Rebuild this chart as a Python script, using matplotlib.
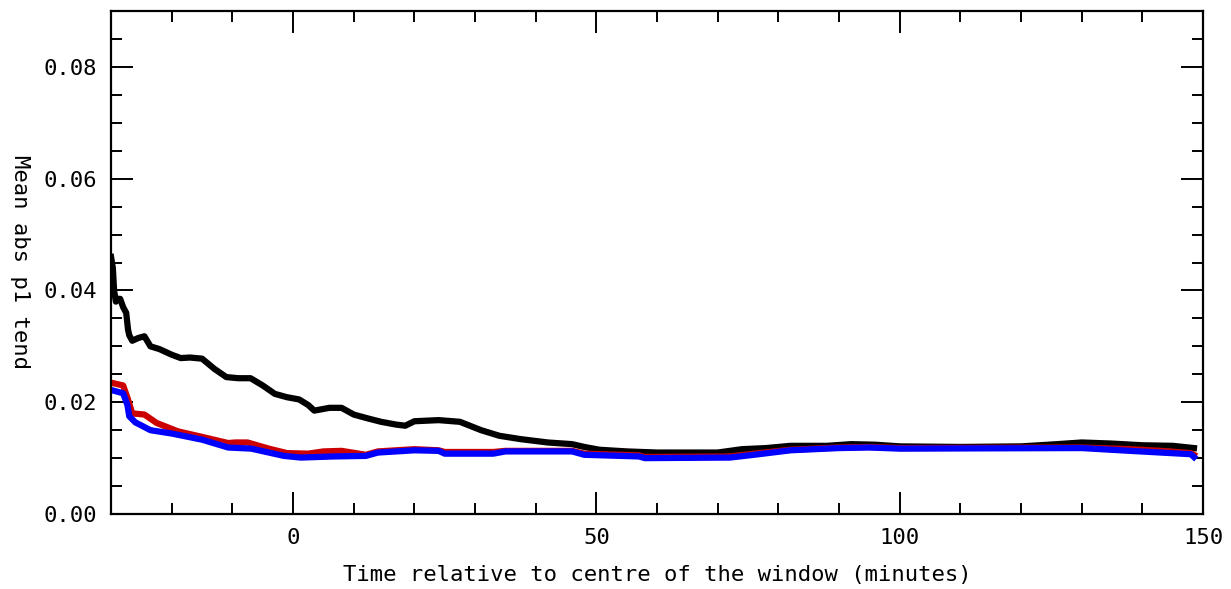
import numpy as np
import matplotlib
matplotlib.use("Agg")
import matplotlib.pyplot as plt
from matplotlib.ticker import MultipleLocator, FormatStrFormatter

# values
black_x = [-30, -29.7, -29.5, -29.2, -29, -28.5, -28, -27.5, -27.2, -27, -26.5, -25.5, -24.5,
           -23.5, -22, -20, -18.5, -17, -15, -13, -11, -9, -7, -5, -3, -1, 1, 2.5, 3.5,
           5, 6, 8, 10, 12, 14.5, 17, 18.5, 20, 24, 27.5, 31, 34, 37.5, 42, 46, 48,
           50.5, 55, 60, 70, 74, 78, 82, 88, 92, 96, 100, 110, 120, 126, 130, 135,
           140, 145, 148.5]
black_y = [0.046, 0.044, 0.040, 0.038, 0.0385, 0.0385, 0.037, 0.036, 0.033, 0.032, 0.031,
           0.0315, 0.0318, 0.030, 0.0295, 0.0285, 0.0279, 0.028, 0.0278, 0.026, 0.0245,
           0.0243, 0.0243, 0.023, 0.0215, 0.0209, 0.0205, 0.0195, 0.0185, 0.0188, 0.019,
           0.019, 0.0178, 0.0172, 0.0165, 0.016, 0.0158, 0.0166, 0.0168, 0.0165, 0.015,
           0.014, 0.0134, 0.0128, 0.0125, 0.012, 0.0115, 0.0112, 0.011, 0.011, 0.0116,
           0.0118, 0.0122, 0.0122, 0.0125, 0.0124, 0.0121, 0.012, 0.0121, 0.0125,
           0.0128, 0.0126, 0.0123, 0.0122, 0.0118]

red_x = [-30, -28, -27.2, -26.5, -24.5, -22.5, -19, -15, -10.7, -9.5, -7.5, -4, -1,
         2.5, 5, 8, 12, 14, 20, 24, 25, 33, 35, 46, 48, 57, 58, 72, 76, 82, 90,
         95, 100, 130, 138, 143, 148, 148.5]
red_y = [0.0235, 0.023, 0.0205, 0.018, 0.0178, 0.0163, 0.0148, 0.0138, 0.0127, 0.0128,
         0.0128, 0.0117, 0.0109, 0.0108, 0.0112, 0.0113, 0.0106, 0.0112, 0.0116, 0.0114,
         0.0111, 0.0111, 0.0113, 0.0113, 0.0108, 0.0105, 0.0102, 0.0103, 0.0108, 0.0115,
         0.0119, 0.012, 0.0118, 0.0119, 0.0116, 0.0113, 0.0109, 0.0106]

blue_x = [-30, -28, -27.3, -27, -26, -23.5, -20, -15, -10.7, -6.9, -1.5, 1.3, 6.7, 12,
          14, 20, 24, 25, 33, 35, 46, 48, 57, 58, 72, 76, 82, 90, 95, 100, 130, 138,
          143, 148, 148.5]
blue_y = [0.0222, 0.0216, 0.0195, 0.0175, 0.0164, 0.015, 0.0144, 0.0133, 0.0119,
          0.0117, 0.0104, 0.0101, 0.0103, 0.0104, 0.011, 0.0114, 0.0113, 0.0108, 0.0108,
          0.0112, 0.0112, 0.0106, 0.0103, 0.0100, 0.0101, 0.0106, 0.0114, 0.0118,
          0.0119, 0.0117, 0.0118, 0.0113, 0.0110, 0.0107, 0.0102]

plt.rcParams["font.family"] = ["DejaVu Sans Mono"]

fig = plt.figure(figsize=(12.31, 5.89), dpi=100)
ax = fig.add_axes([0.0902, 0.1273, 0.8871, 0.854])

ax.plot(black_x, black_y, color="black", lw=4.5)
ax.plot(red_x, red_y, color="#cc0000", lw=4.5)
ax.plot(blue_x, blue_y, color="#0000ff", lw=4.5)

ax.set_xlim(-30, 150)
ax.set_ylim(0, 0.09)
ax.xaxis.set_major_locator(MultipleLocator(50))
ax.xaxis.set_minor_locator(MultipleLocator(10))
ax.yaxis.set_major_locator(MultipleLocator(0.02))
ax.yaxis.set_minor_locator(MultipleLocator(0.005))
ax.yaxis.set_major_formatter(FormatStrFormatter("%.2f"))

ax.tick_params(which="both", direction="in", top=True, right=True, width=1.4,
               labelsize=16, pad=10)
ax.tick_params(which="major", length=16)
ax.tick_params(which="minor", length=8)
for s in ax.spines.values():
    s.set_linewidth(1.6)

ax.set_xlabel("Time relative to centre of the window (minutes)", fontsize=16, labelpad=12)
# y title sits far left, reading top to bottom
fig.text(20 / 1231, 1 - 262 / 589, "Mean abs p1 tend", fontsize=16, rotation=-90,
         ha="center", va="center")

fig.savefig("out.png", dpi=100)
